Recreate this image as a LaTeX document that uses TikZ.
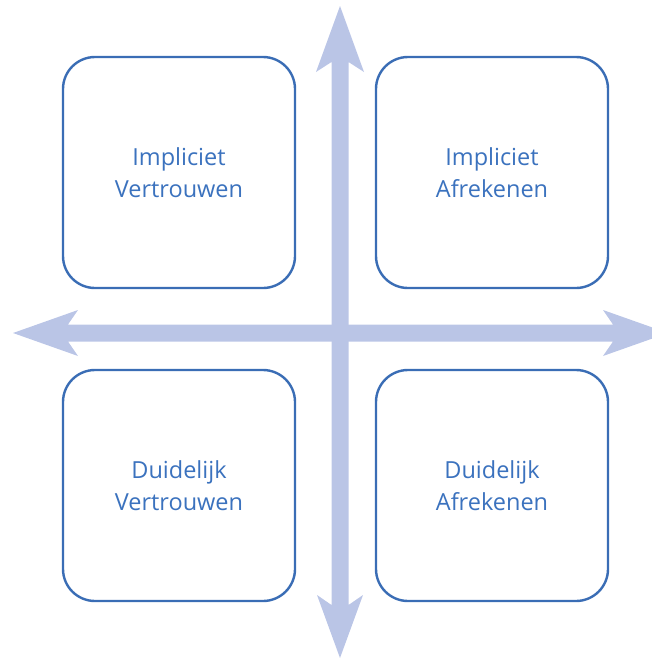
\documentclass[tikz,border=0pt]{standalone}
\usepackage{fontspec}
\setmainfont{Open Sans}
\definecolor{axisfill}{HTML}{BAC5E6}
\definecolor{boxline}{HTML}{3A6DB5}
\definecolor{boxtext}{HTML}{3B72BE}
\begin{document}
\begin{tikzpicture}[x=1pt,y=-1pt,
  quadrant/.style={draw=boxline, line width=2.4pt, rounded corners=32pt,
    minimum width=232pt, minimum height=231pt, fill=white,
    text=boxtext, align=center, font=\fontsize{23.5}{32}\selectfont},
  axis/.style={fill=axisfill, draw=none}]
\useasboundingbox (0,0) rectangle (651,659);
% axes: one vertical and one horizontal double-headed arrow
\fill[axis] (340,6) -- (364,72) -- (348.5,62) -- (348.5,605) -- (363,595)
  -- (340,658) -- (317,595) -- (331.5,605) -- (331.5,62) -- (316,72) -- cycle;
\fill[axis] (13,333) -- (78,310) -- (68,324.5) -- (613,324.5) -- (603,310)
  -- (668,333) -- (603,356) -- (613,341.5) -- (68,341.5) -- (78,356) -- cycle;
% four quadrants
\node[quadrant] (iv) at (179,172.5) {Impliciet\\Vertrouwen};
\node[quadrant] (ia) at (492,172.5) {Impliciet\\Afrekenen};
\node[quadrant] (dv) at (179,485.5) {Duidelijk\\Vertrouwen};
\node[quadrant] (da) at (492,485.5) {Duidelijk\\Afrekenen};
\end{tikzpicture}
\end{document}
